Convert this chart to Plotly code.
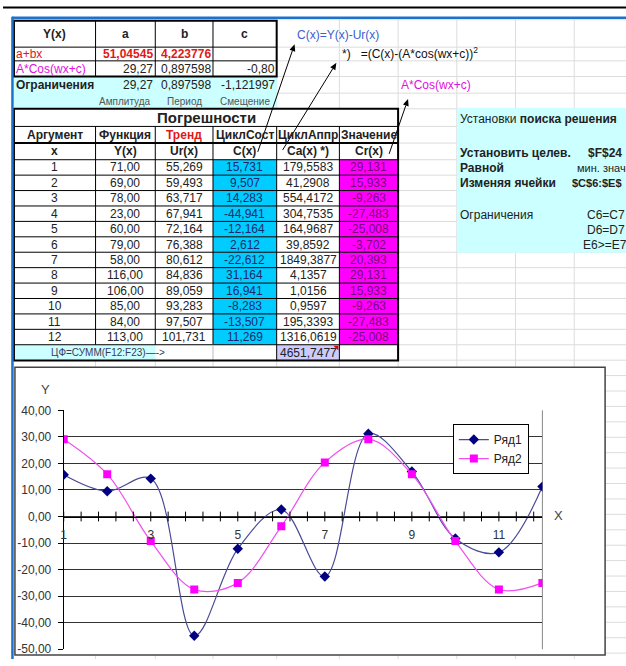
import numpy as np
import plotly.graph_objects as go

# ---- worksheet data ----
arg_x = list(range(1, 13))
func_y = [71.00, 69.00, 78.00, 23.00, 60.00, 79.00, 58.00, 116.00, 106.00, 85.00, 84.00, 113.00]
trend_ur = [55.269, 59.493, 63.717, 67.941, 72.164, 76.388, 80.612, 84.836, 89.059, 93.283, 97.507, 101.731]
cycle_c = [15.731, 9.507, 14.283, -44.941, -12.164, 2.612, -22.612, 31.164, 16.941, -8.283, -13.507, 11.269]
cycle_ca = [179.5583, 41.2908, 554.4172, 304.7535, 164.9687, 39.8592, 1849.3877, 4.1357, 1.0156,
            0.9597, 195.3393, 1316.0619]
value_cr = [29.131, 15.933, -9.263, -27.483, -25.008, -3.702, 20.393, 29.131, 15.933, -9.263, -27.483, -25.008]
objective_sum = 4651.7477

lin_a, lin_b = 51.04545, 4.223776
cos_amp, cos_w, cos_c = 29.27, 0.897598, -0.80
lim_amp, lim_w, lim_c = 29.27, 0.897598, -1.121997

series_names = ["Ряд1", "Ряд2"]
y_ticks = list(range(-50, 41, 10))
x_tick_labels = [1, 3, 5, 7, 9, 11]
x_major, x_minor = 2, 0.4

W, H = 626, 666
FONT = "Liberation Sans, Arial, sans-serif"
shapes, ann = [], []


def fmt(v, d):
    return f"{v:.{d}f}".replace(".", ",")


def px(x):
    return x / W


def py(y):
    return 1 - y / H


def line(x0, y0, x1, y1, color="#000", w=1):
    shapes.append(dict(type="line", xref="paper", yref="paper", x0=px(x0), y0=py(y0), x1=px(x1), y1=py(y1),
                       line=dict(color=color, width=w), layer="below"))


def box(x0, y0, x1, y1, fill, color=None, w=0):
    shapes.append(dict(type="rect", xref="paper", yref="paper", x0=px(x0), y0=py(y1), x1=px(x1), y1=py(y0),
                       fillcolor=fill, line=dict(color=color or "rgba(0,0,0,0)", width=w), layer="below"))


def poly(points, fill):
    path = "M" + " L".join(f"{px(x)},{py(y)}" for x, y in points) + " Z"
    shapes.append(dict(type="path", xref="paper", yref="paper", layer="below", path=path,
                       fillcolor=fill, line=dict(width=0)))


def txt(x, y, s, anchor="center", color="#222", size=12, bold=False):
    if bold:
        s = f"<b>{s}</b>"
    ann.append(dict(x=px(x), y=py(y), xref="paper", yref="paper", text=s, showarrow=False,
                    xanchor=anchor, yanchor="middle", borderpad=0, borderwidth=0,
                    font=dict(family=FONT, size=size, color=color)))


def arrow(hx, hy, tx, ty, head=7, half=3):
    # shaft from the tail to the head, finished with a filled triangular tip
    dx, dy = hx - tx, hy - ty
    n = np.hypot(dx, dy)
    ux, uy = dx / n, dy / n
    bx, by = hx - ux * head, hy - uy * head
    line(tx, ty, bx, by, "#000", 1)
    poly([(hx, hy), (bx - uy * half, by + ux * half), (bx + uy * half, by - ux * half)], "#000")


# ---- sheet grid ----
cols = [11, 93, 153, 211, 275, 338, 397]
grid_cols = [93, 153, 211, 275, 338, 397, 456, 515, 574]
row_h = 15.75
data_top = 156
grid_rows = [13, 41, 55, 71, 88, 104, 122, 139]
r = data_top
while r < H:
    grid_rows.append(r)
    r += row_h
for gx in grid_cols:
    line(gx, 13, gx, H, "#DCDCDC", 1)
for gy in grid_rows:
    line(11, gy, W, gy, "#DCDCDC", 1)

# ---- parameter table ----
box(11, 14, 275, 71, "white")
box(11, 71, 275, 104, "#CCFFFF")
line(11, 41, 275, 41)
line(11, 55, 275, 55)
for cx in cols[1:4]:
    line(cx, 14, cx, 71)
box(11, 14, 275, 71, "rgba(0,0,0,0)", "#000", 2)

txt(52, 27.5, "Y(x)", bold=True)
txt(123, 27.5, "a", bold=True)
txt(182, 27.5, "b", bold=True)
txt(243, 27.5, "c", bold=True)
txt(13, 48, "a+bx", "left", "#E01818")
txt(151, 48, fmt(lin_a, 5), "right", "#E01818", bold=True)
txt(209, 48, fmt(lin_b, 6), "right", "#E01818", bold=True)
txt(13, 63, "A*Cos(wx+c)", "left", "#E010E0")
txt(151, 63, fmt(cos_amp, 2), "right")
txt(209, 63, fmt(cos_w, 6), "right")
txt(273, 63, fmt(cos_c, 2), "right")
txt(13, 80, "Ограничения", "left", bold=True)
txt(151, 80, fmt(lim_amp, 2), "right")
txt(209, 80, fmt(lim_w, 6), "right")
txt(273, 80, fmt(lim_c, 6), "right")
txt(123, 96.5, "Амплитуда", color="#555", size=10)
txt(182, 96.5, "Период", color="#555", size=10)
txt(243, 96.5, "Смещение", color="#555", size=10)

# ---- error table ----
box(11, 104, 397, 361, "white")
for k in range(len(arg_x)):
    y0 = data_top + k * row_h
    box(211, y0, 275, y0 + row_h, "#00CCFF")
    box(338, y0, 397, y0 + row_h, "#FF00FF")
data_bottom = data_top + len(arg_x) * row_h
box(11, data_bottom, 153, 361, "#CCFFFF")
box(275, data_bottom, 338, 361, "#CCCCFF")

line(11, 122, 397, 122)
line(11, 139, 397, 139, "#000", 2)
for k in range(len(arg_x) + 1):
    yy = data_top + k * row_h
    line(11, yy, 397, yy)
for cx in cols[1:6]:
    line(cx, 122, cx, data_bottom)
line(211, data_bottom, 211, 361, "#BBBBBB")
line(275, data_bottom, 275, 361)
line(338, data_bottom, 338, 361)
box(11, 104, 397, 361, "rgba(0,0,0,0)", "#000", 2)
poly([(332, data_bottom + 1), (337, data_bottom + 1), (337, data_bottom + 6)], "#E00000")

txt(204, 113, "Погрешности", size=15, bold=True)
heads1 = ["Аргумент", "Функция", "Тренд", "ЦиклСост", "ЦиклАппр", "Значение"]
heads2 = ["x", "Y(x)", "Ur(x)", "C(x)", "Ca(x) *)", "Cr(x)"]
centers = [(cols[i] + cols[i + 1]) / 2 for i in range(6)]
for i in range(6):
    txt(centers[i], 130.5, heads1[i], color="#E01818" if i == 2 else "#222", bold=True)
    txt(centers[i], 147.5, heads2[i], bold=True)
for k in range(len(arg_x)):
    yc = data_top + (k + 0.5) * row_h
    txt(centers[0], yc, str(arg_x[k]))
    txt(centers[1], yc, fmt(func_y[k], 2))
    txt(centers[2], yc, fmt(trend_ur[k], 3))
    txt(centers[3], yc, fmt(cycle_c[k], 3), color="#1C2A6A")
    txt(centers[4], yc, fmt(cycle_ca[k], 4))
    txt(centers[5], yc, fmt(value_cr[k], 3), color="#7A007A")
txt(48, (data_bottom + 361) / 2, "ЦФ=СУММ(F12:F23)—->", "left", "#3A3A5A", size=10)
txt(centers[4], (data_bottom + 361) / 2, fmt(objective_sum, 4))

# ---- formula notes and arrows ----
txt(295, 29, "C(x)=Y(x)-Ur(x)", "left", "#3A5FD0")
txt(341, 47, "*)&nbsp;&nbsp;&nbsp;=(C(x)-(A*cos(wx+c))<sup>2</sup>", "left", "#111")
txt(400, 80, "A*Cos(wx+c)", "left", "#E010E0")
arrow(293, 38, 256, 148)
arrow(335, 57, 281, 146)
arrow(407, 94, 388, 150)

# ---- solver settings panel (its right part runs past the window edge) ----
box(456, 103, W, 251, "#CCFFFF")
txt(459, 114, "Установки <b>поиска решения</b>", "left")
txt(459, 149, "Установить целев.", "left", bold=True)
txt(588, 149, "$F$24", "left", bold=True)
txt(459, 164.5, "Равной", "left", bold=True)
txt(577, 164.5, "мин. знач", "left", size=11)
txt(459, 180, "Изменяя ячейки", "left", bold=True)
txt(572, 180, "$C$6:$E$", "left", size=11, bold=True)
txt(459, 212, "Ограничения", "left")
txt(587, 212, "C6=C7", "left")
txt(587, 227.5, "D6=D7", "left")
txt(583, 243, "E6>=E7", "left")

# ---- chart frame ----
box(12, 368, 605, 662, "white", "#444", 1.5)
line(542, 412, 542, 656, "#888", 1)
txt(43, 391, "Y", color="#444", size=13)
txt(558, 519, "X", color="#444", size=13)

# ---- window frame ----
line(0, 0.5, W, 0.5, "#000", 2)
line(9, 11, W, 11, "#1F72CC", 2.5)
line(9.5, 10, 9.5, H, "#1F72CC", 2.5)

# ---- chart traces ----
y_lo, y_hi = y_ticks[0], y_ticks[-1]
y_dom = [py(656), py(412)]
zero_pos = y_dom[0] + (0 - y_lo) / (y_hi - y_lo) * (y_dom[1] - y_dom[0])

fig = go.Figure()
fig.add_trace(go.Scatter(x=arg_x, y=cycle_c, name=series_names[0], mode="lines+markers",
                         line=dict(shape="spline", smoothing=1, color="#4A4A98", width=1.2),
                         marker=dict(symbol="diamond", size=8, color="#000080")))
fig.add_trace(go.Scatter(x=arg_x, y=value_cr, name=series_names[1], mode="lines+markers",
                         line=dict(shape="spline", smoothing=1, color="#F050F0", width=1.2),
                         marker=dict(symbol="square", size=8, color="#FF00FF")))
tick_pos = np.arange(arg_x[0], arg_x[-1], x_minor)
fig.add_trace(go.Scatter(x=tick_pos, y=np.zeros_like(tick_pos), mode="markers", showlegend=False,
                         hoverinfo="skip",
                         marker=dict(symbol="line-ns", size=7, line=dict(width=1, color="#000"))))

fig.update_layout(
    width=W, height=H, autosize=False,
    margin=dict(l=0, r=0, t=0, b=0),
    paper_bgcolor="white", plot_bgcolor="rgba(0,0,0,0)",
    font=dict(family=FONT, size=12, color="#222"),
    shapes=shapes, annotations=ann, hovermode=False,
    xaxis=dict(domain=[px(61), px(542)], range=[arg_x[0], arg_x[-1]], anchor="free", position=zero_pos,
               showline=True, linecolor="#000", linewidth=1, ticks="", showgrid=False, zeroline=False,
               tickvals=x_tick_labels, ticktext=[str(v) for v in x_tick_labels],
               tickfont=dict(family=FONT, size=12, color="#333"), ticklabelstandoff=7),
    yaxis=dict(domain=y_dom, range=[y_lo, y_hi], showline=True, linecolor="#000", linewidth=1,
               ticks="outside", ticklen=5, tickcolor="#000", tickvals=y_ticks,
               ticktext=[fmt(v, 2) for v in y_ticks], showgrid=True, gridcolor="#333", gridwidth=1,
               zeroline=False, tickfont=dict(family=FONT, size=12, color="#333"), ticklabelstandoff=4),
    legend=dict(x=px(452), y=py(426), xanchor="left", yanchor="top", bgcolor="white",
                bordercolor="#000", borderwidth=1, itemwidth=30, tracegroupgap=0,
                font=dict(family=FONT, size=12, color="#222")),
)

fig.write_html("out.html")
